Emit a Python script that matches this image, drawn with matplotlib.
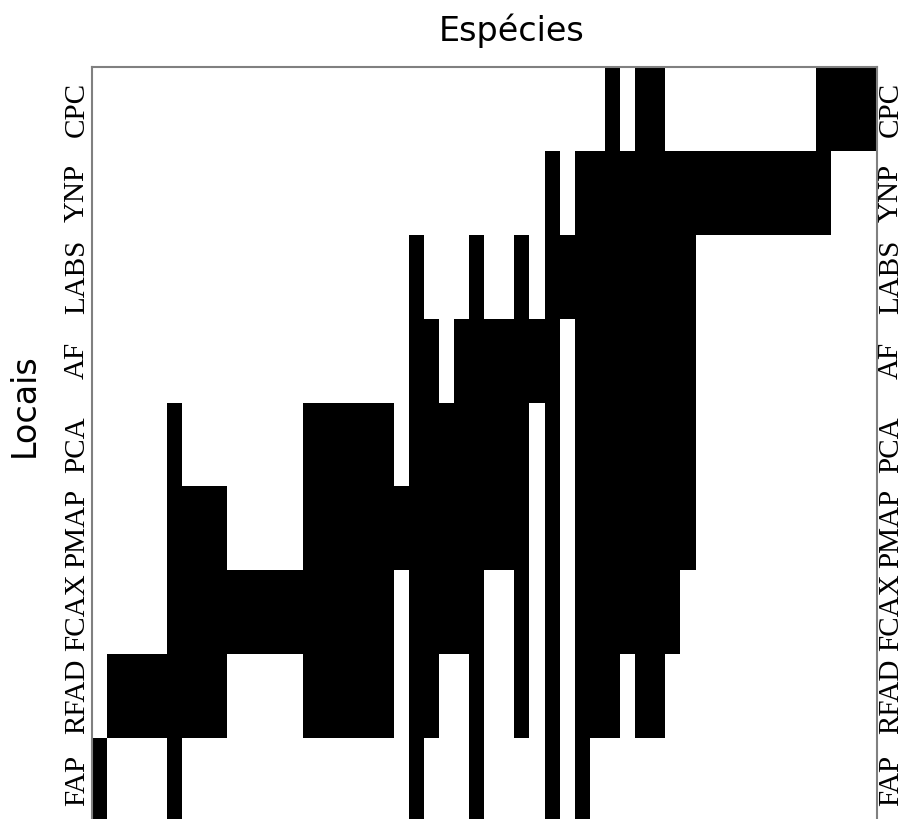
import matplotlib.pyplot as plt
import numpy as np

# sites, top to bottom
sites = ["CPC", "YNP", "LABS", "AF", "PCA", "PMAP", "FCAX", "RFAD", "FAP"]
n_species = 52

# species (column index) present at each site
cpc = [34, 36, 37, 48, 49, 50, 51]
ynp = [30, 32, 33, 34, 35, 36, 37, 38, 39, 40, 41, 42, 43, 44, 45, 46, 47, 48]
labs = [21, 25, 28, 30, 31, 32, 33, 34, 35, 36, 37, 38, 39]
af = [21, 22, 24, 25, 26, 27, 28, 29, 30, 32, 33, 34, 35, 36, 37, 38, 39]
pca = [5, 14, 15, 16, 17, 18, 19, 21, 22, 23, 24, 25, 26, 27, 28, 30,
       32, 33, 34, 35, 36, 37, 38, 39]
pmap = [5, 6, 7, 8, 14, 15, 16, 17, 18, 19, 20, 21, 22, 23, 24, 25, 26,
        27, 28, 30, 32, 33, 34, 35, 36, 37, 38, 39]
fcax = [5, 6, 7, 8, 9, 10, 11, 12, 13, 14, 15, 16, 17, 18, 19, 21, 22,
        23, 24, 25, 28, 30, 32, 33, 34, 35, 36, 37, 38]
rfad = [1, 2, 3, 4, 5, 6, 7, 8, 14, 15, 16, 17, 18, 19, 21, 22, 25, 28,
        30, 32, 33, 34, 36, 37]
fap = [0, 5, 21, 25, 30, 32]

presence = [cpc, ynp, labs, af, pca, pmap, fcax, rfad, fap]

mat = np.zeros((len(sites), n_species))
for i, cols in enumerate(presence):
    mat[i, cols] = 1

fig = plt.figure(figsize=(9.05, 8.19), dpi=100)
ax = fig.add_axes([0.1012, -0.0037, 0.8676, 0.9219])

ax.pcolormesh(np.arange(n_species + 1), np.arange(len(sites) + 1), mat,
              cmap="gray_r", vmin=0, vmax=1)
ax.set_xlim(0, n_species)
ax.set_ylim(len(sites), 0)

ax.set_xticks([])
ax.set_yticks(np.arange(len(sites)) + 0.5)
ax.set_yticklabels(sites, family="Liberation Serif", fontsize=21,
                   rotation=90, va="center")
ax.tick_params(axis="y", length=0, pad=1, labelright=True)

for s in ax.spines.values():
    s.set_color("#808080")
    s.set_linewidth(1.5)

fig.text(0.565, 0.963, "Espécies", ha="center", va="center", fontsize=24)
fig.text(0.027, 0.505, "Locais", ha="center", va="center", fontsize=24,
         rotation=90)

fig.savefig("out.png", dpi=100)
